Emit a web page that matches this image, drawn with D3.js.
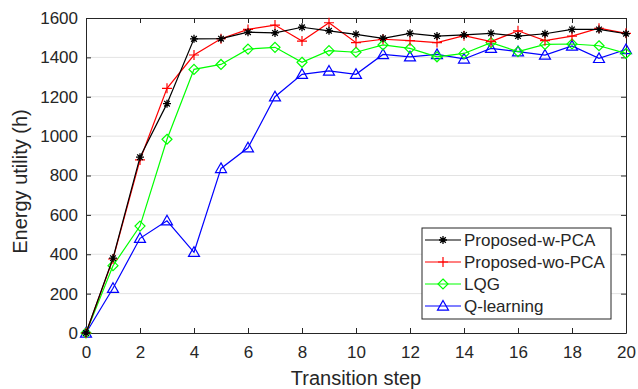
<!DOCTYPE html>
<html>
<head>
<meta charset="utf-8">
<script src="https://cdn.jsdelivr.net/npm/d3@7"></script>
<style>
  body { margin: 0; background: #fff; }
  svg text { font-family: "Liberation Sans", Arial, sans-serif; fill: #262626; }
</style>
</head>
<body>
<div id="chart"></div>
<script>
// data
const steps = d3.range(0, 21);
const withPCA = [0, 380, 893, 1165, 1494, 1495, 1528, 1524, 1553, 1535, 1517, 1497, 1522, 1508, 1514, 1522, 1508, 1520, 1542, 1542, 1520];
const withoutPCA = [0, 376, 879, 1243, 1412, 1495, 1542, 1564, 1483, 1576, 1475, 1492, 1485, 1475, 1510, 1480, 1535, 1485, 1508, 1548, 1522];
const lqg = [0, 342, 543, 984, 1339, 1364, 1442, 1451, 1375, 1434, 1426, 1463, 1446, 1403, 1420, 1475, 1429, 1466, 1468, 1459, 1420];
const qLearning = [0, 227, 481, 570, 410, 836, 941, 1200, 1314, 1331, 1314, 1415, 1403, 1415, 1392, 1446, 1429, 1412, 1458, 1395, 1440];
const xTicks = d3.range(0, 21, 2);
const yTicks = d3.range(0, 1601, 200);

const series = [
  { name: 'Proposed-w-PCA', values: withPCA, color: '#000000', marker: 'star' },
  { name: 'Proposed-wo-PCA', values: withoutPCA, color: '#ff0000', marker: 'plus' },
  { name: 'LQG', values: lqg, color: '#00ff00', marker: 'diamond' },
  { name: 'Q-learning', values: qLearning, color: '#0000ff', marker: 'triangle' }
];

const width = 638, height = 389;
const margin = { top: 18, right: 12, bottom: 56, left: 86 };
const w = width - margin.left - margin.right;
const h = height - margin.top - margin.bottom;

const svg = d3.select('#chart').append('svg')
  .attr('width', width)
  .attr('height', height);

const x = d3.scaleLinear().domain([0, 20]).range([0, w]);
const y = d3.scaleLinear().domain([0, 1600]).range([h, 0]);

const g = svg.append('g')
  .attr('transform', 'translate(' + margin.left + ',' + margin.top + ')');

// grid
g.append('g')
  .selectAll('line')
  .data(yTicks.slice(1, -1))
  .enter().append('line')
  .attr('x1', 0).attr('x2', w)
  .attr('y1', d => y(d)).attr('y2', d => y(d))
  .attr('stroke', '#e3e3e3')
  .attr('stroke-width', 1);

// axes (MATLAB-like, ticks inward, box)
const axisColor = '#262626';
const fmt = d3.format('d');
const xAxis = g.append('g')
  .attr('transform', 'translate(0,' + h + ')')
  .call(d3.axisBottom(x).tickValues(xTicks).tickFormat(fmt).tickSizeInner(-5).tickSizeOuter(0).tickPadding(13));
const yAxis = g.append('g')
  .call(d3.axisLeft(y).tickValues(yTicks).tickFormat(fmt).tickSizeInner(-5).tickSizeOuter(0).tickPadding(8));
const xTop = g.append('g')
  .call(d3.axisTop(x).tickValues(xTicks).tickSizeInner(-5).tickSizeOuter(0).tickFormat(''));
const yRight = g.append('g')
  .attr('transform', 'translate(' + w + ',0)')
  .call(d3.axisRight(y).tickValues(yTicks).tickSizeInner(-5).tickSizeOuter(0).tickFormat(''));

[xAxis, yAxis, xTop, yRight].forEach(a => {
  a.selectAll('path, line').attr('stroke', axisColor);
  a.selectAll('text').style('font-size', '17px').attr('fill', axisColor);
});

// axis titles
svg.append('text')
  .attr('x', margin.left + w / 2)
  .attr('y', 385)
  .attr('text-anchor', 'middle')
  .style('font-size', '20px')
  .text('Transition step');

svg.append('text')
  .attr('transform', 'translate(27,' + (margin.top + h / 2 + 6) + ') rotate(-90)')
  .attr('text-anchor', 'middle')
  .style('font-size', '20px')
  .text('Energy utility (h)');

// markers
function drawMarker(sel, type, color) {
  if (type === 'star') {
    const r = 4;
    sel.append('path')
      .attr('d', 'M' + (-r) + ',0H' + r + 'M0,' + (-r) + 'V' + r +
        'M' + (-r * 0.7) + ',' + (-r * 0.7) + 'L' + (r * 0.7) + ',' + (r * 0.7) +
        'M' + (-r * 0.7) + ',' + (r * 0.7) + 'L' + (r * 0.7) + ',' + (-r * 0.7))
      .attr('stroke', color).attr('stroke-width', 1.3).attr('fill', 'none');
  } else if (type === 'plus') {
    const r = 5;
    sel.append('path')
      .attr('d', 'M' + (-r) + ',0H' + r + 'M0,' + (-r) + 'V' + r)
      .attr('stroke', color).attr('stroke-width', 1.2).attr('fill', 'none');
  } else if (type === 'diamond') {
    const r = 5;
    sel.append('path')
      .attr('d', 'M0,' + (-r) + 'L' + r + ',0L0,' + r + 'L' + (-r) + ',0Z')
      .attr('stroke', color).attr('stroke-width', 1.2).attr('fill', 'none');
  } else {
    const r = 5.5;
    sel.append('path')
      .attr('d', 'M0,' + (-r) + 'L' + r + ',' + (r * 0.75) + 'L' + (-r) + ',' + (r * 0.75) + 'Z')
      .attr('stroke', color).attr('stroke-width', 1.2).attr('fill', 'none');
  }
}

const line = d3.line()
  .x((d, i) => x(steps[i]))
  .y(d => y(d));

// draw in reverse so black sits on top
series.slice().reverse().forEach(s => {
  const sg = g.append('g');
  sg.append('path')
    .datum(s.values)
    .attr('d', line)
    .attr('fill', 'none')
    .attr('stroke', s.color)
    .attr('stroke-width', 1.2);
  sg.selectAll('.pt')
    .data(s.values)
    .enter().append('g')
    .attr('transform', (d, i) => 'translate(' + x(steps[i]) + ',' + y(d) + ')')
    .each(function() { drawMarker(d3.select(this), s.marker, s.color); });
});

// legend
const lg = svg.append('g').attr('transform', 'translate(422,228)');
lg.append('rect')
  .attr('width', 189).attr('height', 91)
  .attr('fill', '#fff')
  .attr('stroke', axisColor).attr('stroke-width', 1);
series.forEach((s, i) => {
  const row = lg.append('g').attr('transform', 'translate(0,' + (12 + i * 22) + ')');
  row.append('line')
    .attr('x1', 3).attr('x2', 39)
    .attr('stroke', s.color).attr('stroke-width', 1.2);
  const m = row.append('g').attr('transform', 'translate(21,0)');
  drawMarker(m, s.marker, s.color);
  row.append('text')
    .attr('x', 42).attr('y', 6)
    .style('font-size', '17px')
    .text(s.name);
});
</script>
</body>
</html>
